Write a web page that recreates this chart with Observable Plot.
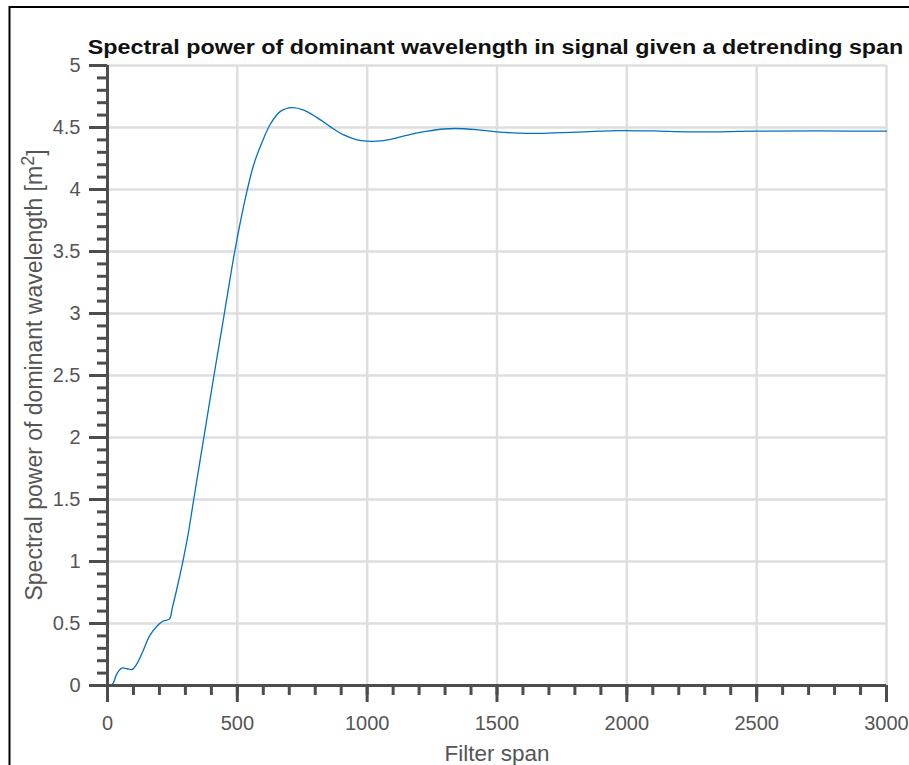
<!DOCTYPE html>
<html>
<head>
<meta charset="utf-8">
<script src="https://cdn.jsdelivr.net/npm/d3@7"></script>
<script src="https://cdn.jsdelivr.net/npm/@observablehq/plot@0.6"></script>
<style>
  html, body { margin: 0; padding: 0; background: #fff; }
  #chart { width: 909px; height: 765px; overflow: hidden; }
</style>
</head>
<body>
<div id="chart"></div>
<script>
// Data
const spans = [10, 22, 35, 55, 75, 95, 112, 135, 162, 191, 215, 238, 250, 265, 280, 295, 313, 332, 371, 410, 450, 490, 531, 563, 596, 628, 666, 711, 756, 807, 859, 910, 961, 1000, 1038, 1090, 1167, 1231, 1295, 1340, 1420, 1500, 1616, 1809, 1975, 2100, 2250, 2500, 2750, 3000];
const power = [0, 0.02, 0.09, 0.14, 0.135, 0.13, 0.17, 0.27, 0.4, 0.48, 0.52, 0.535, 0.63, 0.76, 0.9, 1.05, 1.25, 1.5, 2.0, 2.5, 3.0, 3.5, 3.93, 4.2, 4.385, 4.53, 4.63, 4.66, 4.64, 4.58, 4.505, 4.44, 4.40, 4.39, 4.39, 4.405, 4.445, 4.47, 4.488, 4.492, 4.483, 4.465, 4.452, 4.463, 4.475, 4.472, 4.465, 4.47, 4.472, 4.47];
const xMajorTicks = [0, 500, 1000, 1500, 2000, 2500, 3000];
const xMinorTicks = d3.range(0, 3001, 100);
const yMajorTicks = [0, 0.5, 1, 1.5, 2, 2.5, 3, 3.5, 4, 4.5, 5];
const yMinorTicks = d3.range(0, 51, 1).map(d => d / 10);
const titleText = "Spectral power of dominant wavelength in signal given a detrending span";
const xLabelText = "Filter span";
const yLabelText = "Spectral power of dominant wavelength [m";
const yLabelSup = "2";
const yLabelEnd = "]";

const data = spans.map((s, i) => ({span: s, power: power[i]}));

const axisColor = "#4d4d4d";
const textColor = "#555555";
const gridColor = "#dedede";
const font = "'Liberation Sans', Arial, Helvetica, sans-serif";

const plot = Plot.plot({
  width: 909,
  height: 765,
  marginLeft: 107,
  marginRight: 23,
  marginTop: 65,
  marginBottom: 80,
  style: {fontFamily: font, fontSize: "20px", color: textColor, background: "#fff", overflow: "visible"},
  x: {domain: [0, 3000]},
  y: {domain: [0, 5]},
  marks: [
    Plot.gridX(xMajorTicks, {stroke: gridColor, strokeOpacity: 1, strokeWidth: 2.5}),
    Plot.gridY(yMajorTicks, {stroke: gridColor, strokeOpacity: 1, strokeWidth: 2.5}),
    Plot.line(data, {x: "span", y: "power", stroke: "#0072BD", strokeWidth: 1.3, curve: "catmull-rom"}),
    Plot.ruleX([0], {stroke: axisColor, strokeWidth: 3}),
    Plot.ruleY([0], {stroke: axisColor, strokeWidth: 3}),
    Plot.axisX(xMinorTicks, {anchor: "bottom", tickSize: 10, text: null, stroke: axisColor, strokeWidth: 3, label: null}),
    Plot.axisX(xMajorTicks, {anchor: "bottom", tickSize: 17, tickPadding: 13, stroke: axisColor, strokeWidth: 3, fill: textColor, label: null, tickFormat: d => String(d)}),
    Plot.axisY(yMinorTicks, {anchor: "left", tickSize: 10, text: null, stroke: axisColor, strokeWidth: 3, label: null}),
    Plot.axisY(yMajorTicks, {anchor: "left", tickSize: 18, tickPadding: 9, stroke: axisColor, strokeWidth: 3, fill: textColor, label: null, tickFormat: d => String(d)})
  ]
});

document.getElementById("chart").appendChild(plot);

const svg = d3.select(plot);
// Figure border (left and top edges visible in the reference)
svg.append("path")
  .attr("d", "M9.5,765 L9.5,7 L909,7")
  .attr("fill", "none")
  .attr("stroke", "#000")
  .attr("stroke-width", 2);

// Title
svg.append("text")
  .attr("transform", "translate(495.5,54) scale(1.11,1)")
  .attr("text-anchor", "middle")
  .attr("font-family", font)
  .attr("font-weight", "bold")
  .attr("font-size", 21)
  .attr("fill", "#111")
  .text(titleText);

// X label
svg.append("text")
  .attr("x", 497)
  .attr("y", 761)
  .attr("text-anchor", "middle")
  .attr("font-family", font)
  .attr("font-size", 22.5)
  .attr("fill", textColor)
  .text(xLabelText);

// Y label with superscript
const yl = svg.append("text")
  .attr("transform", "translate(42,375) rotate(-90)")
  .attr("text-anchor", "middle")
  .attr("font-family", font)
  .attr("font-size", 23)
  .attr("fill", textColor);
yl.append("tspan").text(yLabelText);
yl.append("tspan").attr("dy", "-0.45em").attr("font-size", 18).text(yLabelSup);
yl.append("tspan").attr("dy", "0.45em").text(yLabelEnd);
</script>
</body>
</html>
